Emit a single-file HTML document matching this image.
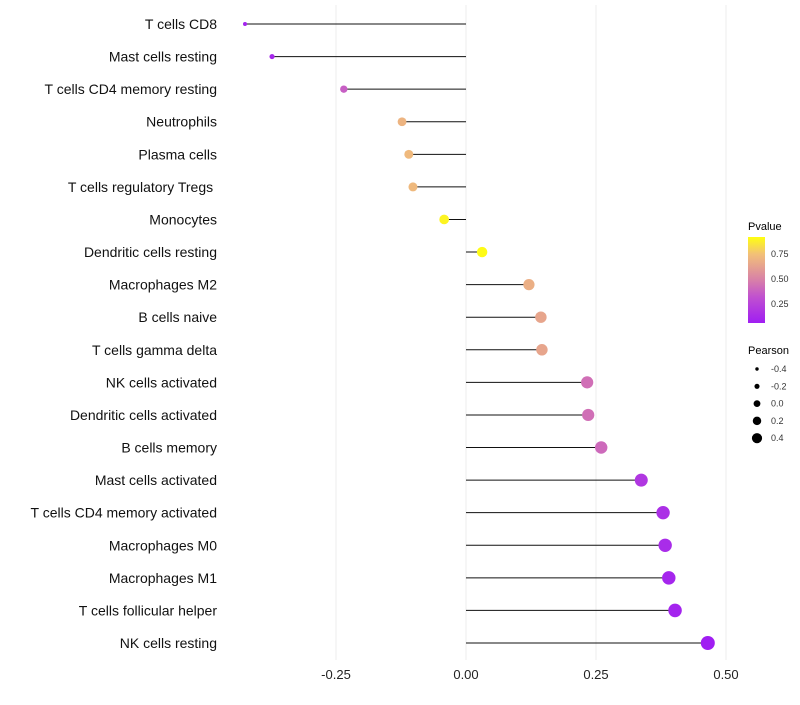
<!DOCTYPE html>
<html><head><meta charset="utf-8"><style>
body{margin:0;background:#fff;font-family:"Liberation Sans",sans-serif}
svg text{font-family:"Liberation Sans",sans-serif}
</style></head><body>
<svg id="chart" width="800" height="700">
<g id="grid"></g><g id="marks"></g><g id="axes"></g>
<g id="legend">
<defs><linearGradient id="pg" x1="0" y1="1" x2="0" y2="0">
<stop offset="0" stop-color="#a01ef2"/><stop offset="0.3" stop-color="#c050d0"/><stop offset="0.5" stop-color="#d880a8"/><stop offset="0.8" stop-color="#f2c078"/><stop offset="1" stop-color="#ffff10"/></linearGradient></defs>
<text x="748" y="230" font-size="11">Pvalue</text>
<rect x="748" y="237" width="17" height="86" fill="url(#pg)"/>
<text x="771" y="257" font-size="9" fill="#333">0.75</text>
<text x="771" y="282" font-size="9" fill="#333">0.50</text>
<text x="771" y="307" font-size="9" fill="#333">0.25</text>
<text x="748" y="354" font-size="11">Pearson</text>
<g id="sizeleg"></g>
</g>
</svg>
<script>
const categories=["T cells CD8","Mast cells resting","T cells CD4 memory resting","Neutrophils","Plasma cells","T cells regulatory  Tregs\u00a0","Monocytes","Dendritic cells resting","Macrophages M2","B cells naive","T cells gamma delta","NK cells activated","Dendritic cells activated","B cells memory","Mast cells activated","T cells CD4 memory activated","Macrophages M0","Macrophages M1","T cells follicular helper","NK cells resting"];
const pearson=[-0.425,-0.373,-0.235,-0.123,-0.110,-0.102,-0.042,0.031,0.121,0.144,0.146,0.233,0.235,0.260,0.337,0.379,0.383,0.390,0.402,0.465];
const pvalue=[0.08,0.1,0.36,0.69,0.71,0.71,0.88,0.9,0.67,0.63,0.63,0.42,0.42,0.4,0.18,0.14,0.12,0.09,0.08,0.04];
const xTicks=[-0.25,0,0.25,0.5];
const xTickLabels=["-0.25","0.00","0.25","0.50"];
const sizeLegendVals=[-0.4,-0.2,0.0,0.2,0.4];
const sizeLegendLabels=["-0.4","-0.2","0.0","0.2","0.4"];

const NS="http://www.w3.org/2000/svg";
const x=v=>466+520*v;
const y=i=>24+i*(619/19);
const r=v=>Math.sqrt(Math.max(2,25.5+50.6*v));
const rl=v=>3.4+4.2*v;
const stops=[[0,[160,30,242]],[0.3,[192,80,208]],[0.5,[216,128,168]],[0.8,[242,192,120]],[1,[255,255,16]]];
function col(p){const t=Math.max(0,Math.min(1,(p-0.05)/0.86));for(let k=1;k<stops.length;k++){if(t<=stops[k][0]){const a=stops[k-1],b=stops[k],f=(t-a[0])/(b[0]-a[0]);return "rgb("+a[1].map((c,j)=>Math.round(c+(b[1][j]-c)*f)).join(",")+")";}}return "rgb(255,255,16)";}
function mk(tag,at,parent){const e=document.createElementNS(NS,tag);for(const k in at)e.setAttribute(k,at[k]);parent.appendChild(e);return e;}
const grid=document.getElementById("grid"),marks=document.getElementById("marks"),axes=document.getElementById("axes");
xTicks.forEach(t=>{const g=mk("line",{x1:x(t),x2:x(t),y1:5,y2:660,stroke:"#ececec","stroke-width":1},grid);

});
xTicks.forEach((t,i)=>{const tx=mk("text",{x:x(t),y:679,"font-size":13,"text-anchor":"middle",fill:"#222"},axes);tx.textContent=xTickLabels[i];

});
categories.forEach((c,i)=>{
const l=mk("line",{x1:x(0),x2:x(pearson[i]),y1:y(i),y2:y(i),stroke:"#111","stroke-width":1},marks);


const d=mk("circle",{cx:x(pearson[i]),cy:y(i),r:r(pearson[i]),fill:col(pvalue[i])},marks);


const tx=mk("text",{x:217,y:y(i)+5,"font-size":14,"text-anchor":"end",fill:"#111"},axes);tx.textContent=c;


});
const sl=document.getElementById("sizeleg");
sizeLegendVals.forEach((v,i)=>{const cy=369+i*17.3;
const c=mk("circle",{cx:757,cy:cy,r:rl(v),fill:"#000"},sl);


const t=mk("text",{x:771,y:cy+3,"font-size":9,fill:"#333"},sl);t.textContent=sizeLegendLabels[i];

});
</script>
</body></html>
